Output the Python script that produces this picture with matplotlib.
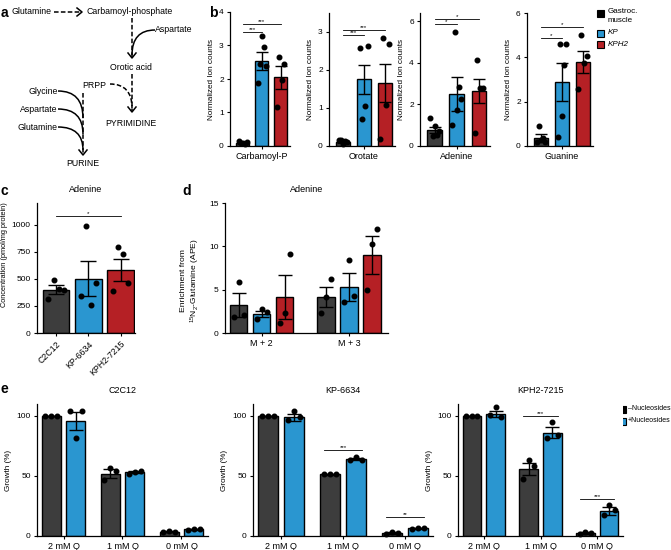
import numpy as np
import matplotlib
matplotlib.use("Agg")
import matplotlib.pyplot as plt
from matplotlib.patches import Rectangle, PathPatch
from matplotlib.path import Path

plt.rcParams['font.family'] = ['Liberation Sans', 'DejaVu Sans']
plt.rcParams['mathtext.fontset'] = 'custom'
plt.rcParams['mathtext.rm'] = 'Liberation Sans'
plt.rcParams['mathtext.it'] = 'Liberation Sans:italic'

GREY = '#3d3d3d'
BLUE = '#2a96d0'
RED = '#b52025'

# ---- panel b: metabolites in tissue ----
b_names = ['Carbamoyl-P', 'Orotate', 'Adenine', 'Guanine']
b_ylim = [4, 3.5, 6.4, 6]
b_ticks = [[0, 1, 2, 3, 4], [0, 1, 2, 3], [0, 2, 4, 6], [0, 2, 4, 6]]
b_mean = [[0.1, 2.55, 2.05], [0.11, 1.75, 1.67], [0.77, 2.5, 2.66], [0.37, 2.89, 3.79]]
b_err = [[0.03, 0.27, 0.34], [0.03, 0.39, 0.5], [0.14, 0.8, 0.57], [0.16, 0.86, 0.5]]
b_pts = [
    [[0.15, 0.08, 0.1, 0.07, 0.12], [1.89, 2.44, 3.28, 2.96, 2.4], [1.17, 2.67, 1.97, 2.45]],
    [[0.17, 0.15, 0.05, 0.12, 0.1], [2.59, 0.71, 1.06, 2.64], [0.19, 2.85, 1.08, 2.68]],
    [[1.34, 0.5, 0.97, 0.55, 0.7], [1.02, 5.48, 1.74, 2.84, 2.26], [0.61, 4.16, 2.8, 2.8]],
    [[0.2, 0.9, 0.25, 0.35, 0.2], [0.42, 4.59, 1.35, 3.65, 4.59], [2.56, 4.99, 3.73, 4.06]],
]
b_sig = [[(0, 1, 3.4, '***'), (0, 2, 3.64, '***')],
         [(0, 1, 2.92, '***'), (0, 2, 3.05, '***')],
         [(0, 1, 5.85, '*'), (0, 2, 6.1, '*')],
         [(0, 1, 4.88, '*'), (0, 2, 5.38, '*')]]
b_legend = ['Gastroc.\nmuscle', 'KP', 'KPH2']

# ---- panel c: adenine concentration ----
c_lines = ['C2C12', 'KP-6634', 'KPH2-7215']
c_mean = [401, 502, 584]
c_err = [45, 165, 103]
c_pts = [[312, 486, 404, 400], [337, 984, 254, 461], [391, 795, 727, 461]]

# ---- panel d: 15N2-glutamine enrichment ----
d_groups = ['M + 2', 'M + 3']
d_mean = [[3.2, 2.19, 4.15], [4.15, 5.35, 8.96]]
d_err = [[1.4, 0.35, 2.5], [1.2, 1.6, 2.2]]
d_pts = [[[1.81, 5.92, 2.08], [1.65, 2.8, 2.45], [1.19, 2.31, 9.08]],
         [[2.31, 4.15, 6.23], [3.58, 8.46, 4.23], [4.92, 10.3, 11.96]]]

# ---- panel e: growth with / without nucleosides ----
e_titles = ['C2C12', 'KP-6634', 'KPH2-7215']
e_conds = ['2 mM Q', '1 mM Q', '0 mM Q']
e_mean = [
    [[100, 96], [52, 53], [3.5, 5.5]],
    [[100, 99], [51.5, 64], [2.5, 6.5]],
    [[100, 101.5], [55.8, 86], [2.5, 20.8]],
]
e_err = [
    [[0.3, 7.5], [4, 0.8], [0.5, 0.5]],
    [[0.3, 3], [0.3, 1], [0.5, 0.5]],
    [[0.3, 2.5], [5.2, 4.5], [0.5, 3.2]],
]
e_pts = [
    [[[100, 100, 100], [104.5, 81.5, 104]], [[46.5, 57, 54], [52, 53, 54]], [[3, 4, 3.5], [5, 5.5, 6]]],
    [[[100, 100, 100], [97, 104.5, 99]], [[51.5, 52, 51.5], [63.5, 65.5, 63.5]], [[2, 3, 2.5], [6, 7, 6.5]]],
    [[[100, 100, 100], [100.8, 107.8, 99.4]], [[47.5, 63.3, 58.6], [81.4, 95.3, 84.2]], [[2, 3.5, 2.5], [17.5, 25.8, 21.7]]],
]
e_sig = [[], [(1, 71.7, '***'), (2, 15.5, '**')], [(1, 100.3, '***'), (2, 30.5, '***')]]
e_legend = ['\u2013Nucleosides', '+Nucleosides']

W, H = 671, 550
fig = plt.figure(figsize=(W / 100, H / 100), dpi=100)

# overlay for diagram, panel letters and legends (pixel coordinates)
ov = fig.add_axes([0, 0, 1, 1])
ov.set_xlim(0, W)
ov.set_ylim(H, 0)
ov.axis('off')


def px_axes(l, t, r, b):
    ax = fig.add_axes([l / W, 1 - b / H, (r - l) / W, (b - t) / H])
    for s in ['top', 'right']:
        ax.spines[s].set_visible(False)
    for s in ['left', 'bottom']:
        ax.spines[s].set_linewidth(0.9)
    ax.tick_params(labelsize=6, length=2.5, width=0.8, pad=2)
    return ax


def dots(ax, x, pts, width):
    xs = x + np.linspace(-width * 0.3, width * 0.3, len(pts))
    ax.plot(xs, pts, 'o', color='k', ms=3.3, zorder=5, clip_on=False)


def errbar(ax, x, m, e, cap):
    ax.errorbar(x, m, yerr=e, fmt='none', ecolor='k', elinewidth=1,
                capsize=cap, capthick=1, zorder=4)


def sig(ax, x1, x2, y, s):
    ax.plot([x1, x2], [y, y], color='k', lw=0.6, clip_on=False)
    ax.text((x1 + x2) / 2, y, s, ha='center', va='bottom', fontsize=4.5)


# ---------------- panel a: pathway schematic ----------------
tfs = 6.3
for txt, x, y in [('Glutamine', 31, 12), ('Carbamoyl-phosphate', 130, 12),
                  ('Aspartate', 174, 30), ('Orotic acid', 131, 67), ('PRPP', 94, 86),
                  ('PYRIMIDINE', 131, 124), ('Glycine', 43, 91), ('Aspartate', 39, 109),
                  ('Glutamine', 38, 127), ('PURINE', 83, 164)]:
    ov.text(x, y, txt, ha='center', va='center', fontsize=tfs)


def vhead(x, y, d):
    if d == 'down':
        ov.plot([x - 4, x, x + 4], [y - 5, y, y - 5], color='k', lw=1.1)
    else:
        ov.plot([x - 5, x, x - 5], [y - 4, y, y + 4], color='k', lw=1.1)


def curve(p0, c, p1, ls='-'):
    path = Path([p0, c, p1], [Path.MOVETO, Path.CURVE3, Path.CURVE3])
    ov.add_patch(PathPatch(path, fc='none', ec='k', lw=1.1, ls=ls))


ov.plot([54, 81], [12, 12], color='k', lw=1.1, ls=(0, (3, 1.5)))
vhead(82, 12, 'right')
ov.plot([132, 132], [18, 58], color='k', lw=1.1, ls=(0, (3, 1.5)))
curve((155, 30), (132, 30), (132, 55))
vhead(132, 58, 'down')
ov.plot([132, 132], [74, 111], color='k', lw=1.1, ls=(0, (3, 1.5)))
curve((110, 84), (132, 84), (132, 108), ls=(0, (3, 1.5)))
vhead(132, 112, 'down')
ov.plot([83, 83], [93, 154], color='k', lw=1.1, ls=(0, (3, 1.5)))
curve((58, 91), (83, 91), (83, 118))
curve((58, 109), (83, 109), (83, 134))
curve((58, 127), (83, 127), (83, 150))
vhead(83, 155, 'down')

# panel letters
for lab, x, y in [('a', 4, 13), ('b', 213, 13), ('c', 4, 191), ('d', 187, 191), ('e', 4, 389)]:
    ov.text(x, y, lab, fontsize=10, fontweight='bold', ha='center', va='center')

# ---------------- panel b ----------------
b_boxes = [(230, 12, 290, 146), (329, 13, 395, 146), (420, 13, 490, 146), (527, 13, 593, 146)]
bw = 0.68
for i, box in enumerate(b_boxes):
    ax = px_axes(*box)
    x = np.arange(3)
    ax.bar(x, b_mean[i], width=bw, color=[GREY, BLUE, RED], edgecolor='k', lw=1, zorder=2)
    for j in range(3):
        errbar(ax, j, b_mean[i][j], b_err[i][j], 4)
        dots(ax, j, b_pts[i][j], bw)
    for (a1, a2, y, s) in b_sig[i]:
        sig(ax, a1, a2, y, s)
    ax.set_xlim(-0.68, 2.5)
    ax.set_ylim(0, b_ylim[i])
    ax.set_yticks(b_ticks[i])
    ax.set_xticks([1])
    ax.set_xticklabels([b_names[i]], fontsize=6.5)
    ax.set_ylabel('Normalized Ion counts', fontsize=5.9, labelpad=3)

for k, (lab, y) in enumerate(zip(b_legend, [13, 33, 44])):
    ov.add_patch(Rectangle((597, y - 3.5), 7, 7, fc=['k', BLUE, RED][k], ec='k', lw=0.8))
    ov.text(608, y - 5 if k == 0 else y, lab, fontsize=5.8, va='center' if k else 'top',
            style='normal' if k == 0 else 'italic', linespacing=1.4)

# ---------------- panel c ----------------
ax = px_axes(37, 203, 135, 333)
x = np.arange(3)
bw = 0.82
ax.bar(x, c_mean, width=bw, color=[GREY, BLUE, RED], edgecolor='k', lw=1, zorder=2)
for j in range(3):
    errbar(ax, j, c_mean[j], c_err[j], 6)
    dots(ax, j, c_pts[j], bw)
sig(ax, 0, 2, 1076, '*')
ax.set_xlim(-0.6, 2.45)
ax.set_ylim(0, 1200)
ax.set_yticks([0, 250, 500, 750, 1000])
ax.set_xticks(x)
ax.set_xticklabels(c_lines, rotation=45, ha='right', rotation_mode='anchor', fontsize=6.3)
ax.set_ylabel('Concentration (pmol/mg protein)', fontsize=5.3)
ax.yaxis.set_label_coords(-0.3, 0.6)
ax.set_title('Adenine', fontsize=6.5, pad=8)

# ---------------- panel d ----------------
ax = px_axes(225, 203, 388, 333)
bw = 0.75
gpos = np.array([0, 3.8])
for g in range(2):
    for j in range(3):
        xj = gpos[g] + (j - 1)
        ax.bar(xj, d_mean[g][j], width=bw, color=[GREY, BLUE, RED][j], edgecolor='k', lw=1, zorder=2)
        errbar(ax, xj, d_mean[g][j], d_err[g][j], 5)
        dots(ax, xj, d_pts[g][j], bw)
ax.set_xlim(-1.6, 5.5)
ax.set_ylim(0, 15)
ax.set_yticks([0, 5, 10, 15])
ax.set_xticks(gpos)
ax.set_xticklabels(d_groups, fontsize=6.5)
ax.set_ylabel('Enrichment from\n$^{15}$N$_2$-Glutamine (APE)', fontsize=6.1)
ax.yaxis.set_label_coords(-0.14, 0.4)
ax.set_title('Adenine', fontsize=6.5, pad=8)
for k, (lab, y) in enumerate(zip(c_lines, [207, 219, 231])):
    ov.add_patch(Rectangle((230, y - 3.5), 7, 7, fc=['k', BLUE, RED][k], ec='k', lw=0.8))
    ov.text(241, y, lab, fontsize=5.8, va='center')

# ---------------- panel e ----------------
e_boxes = [(37, 404, 208, 536), (253, 404, 433, 536), (458, 404, 623, 536)]
bw = 0.32
for i, box in enumerate(e_boxes):
    ax = px_axes(*box)
    for g in range(3):
        for j in range(2):
            xj = g + (j - 0.5) * 0.42
            ax.bar(xj, e_mean[i][g][j], width=bw, color=[GREY, BLUE][j], edgecolor='k', lw=1, zorder=2)
            errbar(ax, xj, e_mean[i][g][j], e_err[i][g][j], 5)
            dots(ax, xj, e_pts[i][g][j], bw)
    for (g, y, s) in e_sig[i]:
        sig(ax, g - 0.3, g + 0.3, y, s)
    ax.set_xlim(-0.45, 2.45)
    ax.set_ylim(0, 110)
    ax.set_yticks([0, 50, 100])
    ax.set_xticks(range(3))
    ax.set_xticklabels(e_conds, fontsize=6.5)
    ax.set_ylabel('Growth (%)', fontsize=5.9, labelpad=3)
    ax.set_title(e_titles[i], fontsize=6.5, pad=8)

for k, (lab, y) in enumerate(zip(e_legend, [409, 421])):
    ov.add_patch(Rectangle((619, y - 3.5), 7, 7, fc=['k', BLUE][k], ec='k', lw=0.8))
    ov.text(627.5, y, lab, fontsize=5.0, va='center')

fig.savefig('out.png', dpi=100)
